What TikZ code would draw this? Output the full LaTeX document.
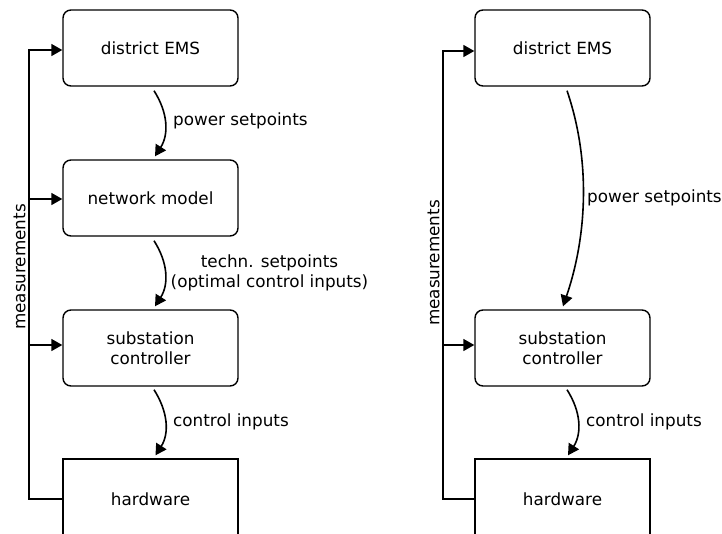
\documentclass[tikz,border=0pt]{standalone}
\usepackage{fontspec}
\setmainfont{DejaVu Sans}
\usetikzlibrary{arrows.meta,calc}
\begin{document}
\begin{tikzpicture}[x=1pt,y=-1pt,
  every node/.style={font=\fontsize{16.8}{20}\selectfont},
  box/.style={draw, line width=1.4pt, rounded corners=8pt, minimum width=175pt,
    minimum height=76pt, align=center, inner sep=0pt},
  hwbox/.style={draw, line width=1.4pt, minimum width=175pt, minimum height=80pt, inner sep=0pt},
  flow/.style={line width=1.6pt, -{Triangle[width=12pt,length=11pt]}},
  fbline/.style={line width=1.6pt, line join=miter, -{Triangle[width=12pt,length=11pt]}},
  lbl/.style={anchor=west, inner sep=0pt}]
\useasboundingbox (0,0) rectangle (722,533);
\clip (0,0) rectangle (722,533);

% ---------- left chain ----------
\node[box]   (ems)  at (150.5,48)  {district EMS};
\node[box]   (net)  at (150.5,198) {network model};
\node[box]   (sub)  at (150.5,348) {substation\\controller};
\node[hwbox] (hw)   at (150.5,499) {hardware};

\draw[flow] ($(ems.south)+(3.5,4)$) .. controls +(14,22) and +(14,-22) .. ($(net.north)+(4.5,-3)$);
\draw[flow] ($(net.south)+(3.5,4)$) .. controls +(14,22) and +(14,-22) .. ($(sub.north)+(4.5,-3)$);
\draw[flow] ($(sub.south)+(3.5,3)$) .. controls +(14,22) and +(14,-22) .. ($(hw.north)+(5,-3)$);

\node[lbl] (l1) at (173,121) {power setpoints};
\node[inner sep=0pt, align=center] (l2) at (269.5,273) {techn. setpoints\\(optimal control inputs)};
\node[lbl] (l3) at (173,422) {control inputs};

% measurement feedback
\coordinate (ft) at (29,50);
\coordinate (f1) at (29,199);
\coordinate (f2) at (29,345);
\draw[fbline] (hw.west) -| (ft) -- (ft -| ems.west);
\draw[flow] (f1) -- (f1 -| net.west);
\draw[flow] (f2) -- (f2 -| sub.west);
\node[rotate=90, inner sep=0pt] (lm) at (19.5,267) {measurements};

% ---------- right chain ----------
\node[box]   (ems2) at (562.5,48)  {district EMS};
\node[box]   (sub2) at (562.5,348) {substation\\controller};
\node[hwbox] (hw2)  at (562.5,499) {hardware};

\draw[flow] ($(ems2.south)+(4.5,4)$) .. controls +(24,70) and +(24,-70) .. ($(sub2.north)+(0.5,-3)$);
\draw[flow] ($(sub2.south)+(4.5,3)$) .. controls +(14,22) and +(14,-22) .. ($(hw2.north)+(5.5,-3)$);

\node[lbl] (r1) at (587,198) {power setpoints};
\node[lbl] (r2) at (586,422) {control inputs};

\coordinate (gt) at (443,51);
\coordinate (g1) at (443,345);
\draw[fbline] (hw2.west) -| (gt) -- (gt -| ems2.west);
\draw[flow] (g1) -- (g1 -| sub2.west);
\node[rotate=90, inner sep=0pt] (rm) at (433.5,263) {measurements};
\end{tikzpicture}
\end{document}
